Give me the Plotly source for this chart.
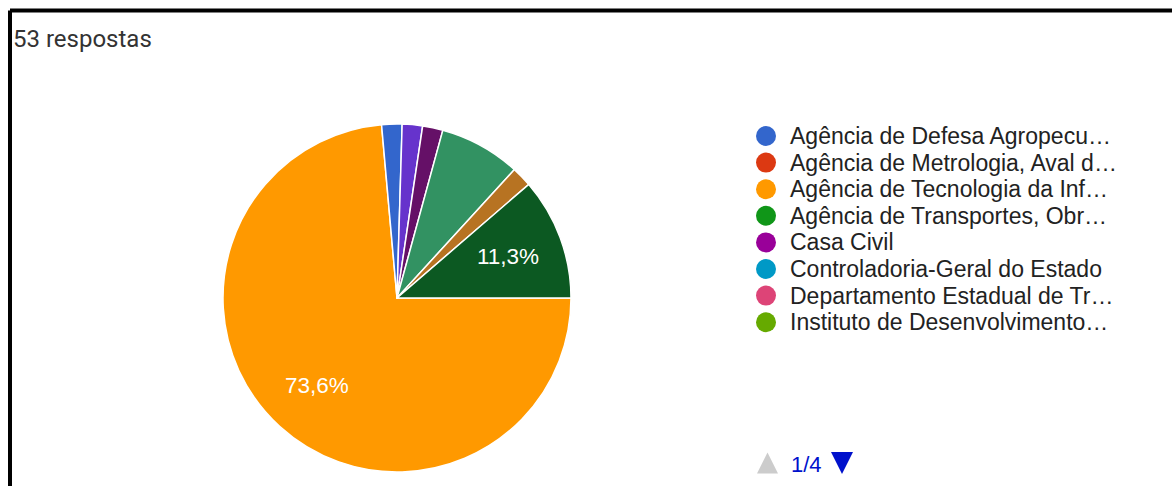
import math
import plotly.graph_objects as go

W, H = 1172, 486

response_total_label = "53 respostas"

# Pie slices in drawing order (clockwise, first slice starting at 3 o'clock)
slice_labels = [
    "Agência de Tecnologia da Informação",
    "Agência de Defesa Agropecuária",
    "Secretaria da Administração",
    "Secretaria da Fazenda",
    "Secretaria de Planejamento",
    "Secretaria da Educação",
    "Secretaria da Saúde",
]
slice_counts = [39, 1, 1, 1, 4, 1, 6]
slice_colors = ["#ff9900", "#3366cc", "#6633cc", "#651067", "#329262", "#b77322", "#0c5922"]

# First page of the legend
legend_labels = [
    "Agência de Defesa Agropecu…",
    "Agência de Metrologia, Aval d…",
    "Agência de Tecnologia da Inf…",
    "Agência de Transportes, Obr…",
    "Casa Civil",
    "Controladoria-Geral do Estado",
    "Departamento Estadual de Tr…",
    "Instituto de Desenvolvimento…",
]
legend_colors = ["#3366cc", "#dc3912", "#ff9900", "#109618",
                 "#990099", "#0099c6", "#dd4477", "#66aa00"]
page_label = "1/4"

# ---- layout constants (pixels) ----
PIE_CX, PIE_CY, PIE_R = 397, 298, 174
ROTATION = 90
LABEL_RADIUS = 0.68
LEG_MARKER_X, LEG_TEXT_X = 766, 788
LEG_TOP, LEG_GAP = 136, 26.6
PAGER_Y = 463
TEXT_FONT = "Arial, Liberation Sans, sans-serif"

total = sum(slice_counts)

fig = go.Figure()

fig.add_trace(go.Pie(
    labels=slice_labels,
    values=slice_counts,
    sort=False,
    direction="clockwise",
    rotation=ROTATION,
    marker=dict(colors=slice_colors, line=dict(color="white", width=1.5)),
    textinfo="none",
    hovertemplate="%{label}<br>%{value} (%{percent})<extra></extra>",
    showlegend=False,
    domain=dict(
        x=[(PIE_CX - PIE_R) / W, (PIE_CX + PIE_R) / W],
        y=[1 - (PIE_CY + PIE_R) / H, 1 - (PIE_CY - PIE_R) / H],
    ),
))

annotations = []

# percentage labels on the larger slices
cum = 0
for count in slice_counts:
    share = count / total
    mid = math.radians(ROTATION + 360 * (cum + count / 2) / total)
    cum += count
    if share < 0.10:
        continue
    px = PIE_CX + LABEL_RADIUS * PIE_R * math.sin(mid)
    py = PIE_CY - LABEL_RADIUS * PIE_R * math.cos(mid)
    annotations.append(dict(
        x=px / W, y=1 - py / H, xref="paper", yref="paper",
        text=f"{share * 100:.1f}%".replace(".", ","),
        showarrow=False, xanchor="center", yanchor="middle",
        font=dict(family=TEXT_FONT, size=22.5, color="white"),
    ))

# legend markers
leg_rows = list(range(len(legend_labels)))
leg_y = [LEG_TOP + LEG_GAP * i for i in leg_rows]
fig.add_trace(go.Scatter(
    x=[LEG_MARKER_X] * len(leg_rows), y=leg_y, mode="markers",
    marker=dict(size=20, color=legend_colors, line=dict(width=0)),
    xaxis="x2", yaxis="y2", showlegend=False, hoverinfo="skip",
))
for y, lab in zip(leg_y, legend_labels):
    annotations.append(dict(
        x=LEG_TEXT_X, y=y, xref="x2", yref="y2", text=lab,
        showarrow=False, xanchor="left", yanchor="middle",
        font=dict(family=TEXT_FONT, size=23, color="#222222"),
    ))

# pager
annotations.append(dict(
    x=789, y=PAGER_Y + 1, xref="x2", yref="y2", text=page_label,
    showarrow=False, xanchor="left", yanchor="middle",
    font=dict(family=TEXT_FONT, size=22, color="#0011cc"),
))

annotations.append(dict(
    x=11 / W, y=1 - 39 / H, xref="paper", yref="paper",
    text=response_total_label, showarrow=False,
    xanchor="left", yanchor="middle",
    font=dict(family="Roboto, Arial, sans-serif", size=24, color="#333333"),
))


def tri(cx, cy, size, up):
    h = size / 2
    if up:
        return f"M {cx - h},{cy + h} L {cx + h},{cy + h} L {cx},{cy - h} Z"
    return f"M {cx - h},{cy - h} L {cx + h},{cy - h} L {cx},{cy + h} Z"


shapes = [
    # frame on top and left
    dict(type="line", xref="paper", yref="paper", x0=10 / W, x1=1.02,
         y0=1 - 10.5 / H, y1=1 - 10.5 / H, line=dict(color="black", width=4)),
    dict(type="line", xref="paper", yref="paper", x0=10 / W, x1=10 / W,
         y0=-0.02, y1=1 - 10.5 / H, line=dict(color="black", width=4)),
    dict(type="path", xref="x2", yref="y2", path=tri(767.5, PAGER_Y, 21, True),
         fillcolor="#cccccc", line=dict(width=0)),
    dict(type="path", xref="x2", yref="y2", path=tri(842, PAGER_Y, 22, False),
         fillcolor="#0011cc", line=dict(width=0)),
]

fig.update_layout(
    width=W, height=H,
    margin=dict(l=0, r=0, t=0, b=0),
    paper_bgcolor="white", plot_bgcolor="rgba(0,0,0,0)",
    xaxis2=dict(domain=[0, 1], range=[0, W], visible=False, fixedrange=True),
    yaxis2=dict(domain=[0, 1], range=[H, 0], visible=False, fixedrange=True),
    annotations=annotations,
    shapes=shapes,
)

fig.write_html("out.html")
